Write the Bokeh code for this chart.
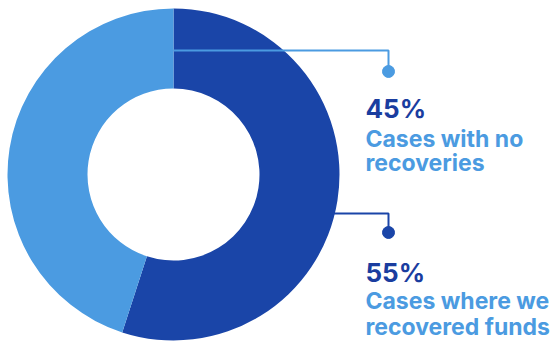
import numpy as np
from bokeh.plotting import figure
from bokeh.models import Range1d, ColumnDataSource
from bokeh.core.properties import value
from bokeh.embed import file_html
from bokeh.resources import INLINE

# ---- data ----
categories = ["Cases where we recovered funds", "Cases with no recoveries"]
shares = [55, 45]
pct_labels = ["55%", "45%"]
desc_line1 = ["Cases where we", "Cases with no"]
desc_line2 = ["recovered funds", "recoveries"]
slice_colors = ["#1a45a8", "#4b9be1"]
pct_colors = ["#1a3d9f", "#1a3d9f"]
desc_colors = ["#4b9be1", "#4b9be1"]
line_colors = ["#1a45a8", "#4b9be1"]

# ---- layout (reference pixel units, y up) ----
W, H = 553, 341
CX, CY = 173, H - 174
R_OUT, R_IN = 166, 86

p = figure(width=W, height=H, output_backend="svg", toolbar_location=None,
           x_range=Range1d(0, W), y_range=Range1d(0, H),
           min_border=0, outline_line_color=None, background_fill_color="white")
p.axis.visible = False
p.grid.visible = False

# wedge angles: start at top, clockwise
fr = np.array(shares, dtype=float) / sum(shares)
ends = np.pi / 2 - np.cumsum(fr) * 2 * np.pi
starts = np.concatenate([[np.pi / 2], ends[:-1]])

src = ColumnDataSource(dict(x=[CX] * len(shares), y=[CY] * len(shares),
                            start=list(starts), end=list(ends),
                            color=slice_colors, cat=categories))
p.annular_wedge(x="x", y="y", inner_radius=R_IN, outer_radius=R_OUT,
                start_angle="start", end_angle="end", direction="clock",
                fill_color="color", line_color=None, source=src)

# connector lines
LX = 388
TX = 365
# 45% connector: from top boundary at mid-ring to the right, then down
y1 = H - 50
y1_dot = H - 71
p.line([CX, LX, LX], [y1, y1, y1_dot], line_color=line_colors[1], line_width=2)
p.scatter([LX], [y1_dot], size=12, color=line_colors[1])
# 55% connector: from outer edge to the right, then down
y2 = H - 213
x2 = CX + np.sqrt(R_OUT ** 2 - (CY - y2) ** 2)
y2_dot = H - 232
p.line([x2 - 2, LX, LX], [y2, y2, y2_dot], line_color=line_colors[0], line_width=2)
p.scatter([LX], [y2_dot], size=12, color=line_colors[0])

# labels
pct_base = [H - 272, H - 108]
desc1_base = [H - 300, H - 138]
desc2_base = [H - 326, H - 162]
font = value("Inter")
p.text(x=[TX, TX], y=pct_base, text=pct_labels, text_color=pct_colors,
       text_font=font, text_font_style="bold", text_font_size="26px",
       text_baseline="alphabetic")
p.text(x=[TX, TX], y=desc1_base, text=desc_line1, text_color=desc_colors,
       text_font=font, text_font_style="bold", text_font_size="23px",
       text_baseline="alphabetic")
p.text(x=[TX, TX], y=desc2_base, text=desc_line2, text_color=desc_colors,
       text_font=font, text_font_style="bold", text_font_size="23px",
       text_baseline="alphabetic")

open("out.html", "w").write(file_html(p, INLINE))
